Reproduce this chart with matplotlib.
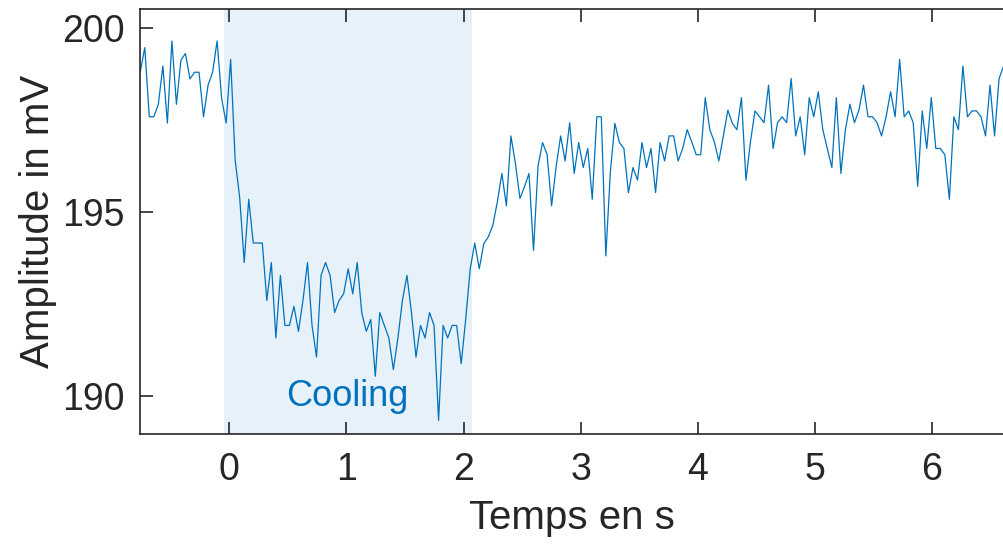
import numpy as np
import matplotlib
matplotlib.use("Agg")
import matplotlib.pyplot as plt

# Signal amplitude (mV), sampled every 0.0386 s starting at -0.761 s
t_start = -0.761
dt = 0.0386
amplitude = [
    198.82, 199.48, 197.60, 197.60, 197.94, 198.98, 197.43, 199.66, 197.94, 199.14,
    199.32, 198.63, 198.81, 198.81, 197.60, 198.46, 198.81, 199.66, 198.10, 197.43,
    199.16, 196.42, 195.40, 193.64, 195.36, 194.17, 194.17, 194.17, 192.61, 193.64,
    191.59, 193.29, 191.93, 191.93, 192.45, 191.77, 192.61, 193.64, 191.93, 191.07,
    193.29, 193.64, 193.29, 192.28, 192.61, 192.79, 193.47, 192.79, 193.64, 192.28,
    191.77, 192.09, 190.55, 192.28, 191.93, 191.59, 190.73, 191.59, 192.61, 193.29,
    192.28, 191.07, 191.93, 191.59, 192.28, 191.93, 189.35, 191.93, 191.59, 191.93,
    191.93, 190.89, 192.10, 193.47, 194.17, 193.47, 194.15, 194.34, 194.65, 195.29,
    196.06, 195.18, 197.08, 196.33, 195.38, 195.70, 196.06, 193.97, 196.26, 196.90,
    196.58, 195.18, 196.24, 197.08, 196.40, 197.44, 196.06, 196.90, 196.22, 196.74,
    195.36, 197.60, 197.60, 193.82, 196.10, 197.42, 196.90, 196.74, 195.54, 196.22,
    195.88, 196.90, 196.22, 196.74, 195.54, 196.90, 196.40, 197.08, 197.08, 196.40,
    196.74, 197.25, 196.92, 196.57, 196.57, 198.12, 197.25, 196.92, 196.40, 197.08,
    197.78, 197.42, 197.25, 198.12, 195.88, 196.92, 197.76, 197.60, 197.44, 198.46,
    196.74, 197.44, 197.60, 197.44, 198.64, 197.08, 197.60, 196.57, 198.12, 197.60,
    198.28, 197.25, 196.74, 196.22, 198.12, 196.06, 197.25, 197.94, 197.44, 197.78,
    198.46, 197.60, 197.60, 197.44, 197.08, 197.60, 198.28, 197.60, 199.16, 197.60,
    197.76, 197.44, 195.71, 197.76, 196.74, 198.12, 196.74, 196.74, 196.57, 195.36,
    197.60, 197.25, 198.98, 197.60, 197.76, 197.76, 197.60, 197.08, 198.46, 197.08,
    198.64, 198.98,
]
time = t_start + dt * np.arange(len(amplitude))

cooling_start = -0.045
cooling_end = 2.07
x_ticks = [0, 1, 2, 3, 4, 5, 6]
y_ticks = [190, 195, 200]

plt.rcParams['font.family'] = ['Liberation Sans', 'DejaVu Sans']
dark = '#262626'
blue = '#0072BD'

fig = plt.figure(figsize=(10.04, 5.46), dpi=100)
ax = fig.add_axes([0.1397, 0.2051, 0.8603, 0.7778])

ax.axvspan(cooling_start, cooling_end, color='#E6F1F9', lw=0, zorder=0)
ax.plot(time, amplitude, color=blue, lw=0.9, zorder=2)
ax.text(1.01, 190.0, 'Cooling', color=blue, fontsize=26, ha='center', va='center')

ax.set_xlim(-0.761, 6.615)
ax.set_ylim(188.98, 200.52)
ax.set_xticks(x_ticks)
ax.set_yticks(y_ticks)
ax.tick_params(direction='in', length=9, width=1.2, colors=dark, labelsize=27,
               top=True, right=False)
ax.tick_params(axis='x', pad=13)
ax.tick_params(axis='y', pad=11)
ax.set_xlabel('Temps en s', fontsize=29, color=dark, labelpad=8)
ax.set_ylabel('Amplitude in mV', fontsize=29, color=dark, labelpad=4)
for side in ['left', 'bottom', 'top']:
    ax.spines[side].set_color(dark)
    ax.spines[side].set_linewidth(1.2)
ax.spines['right'].set_visible(False)

fig.savefig('out.png', dpi=100)
